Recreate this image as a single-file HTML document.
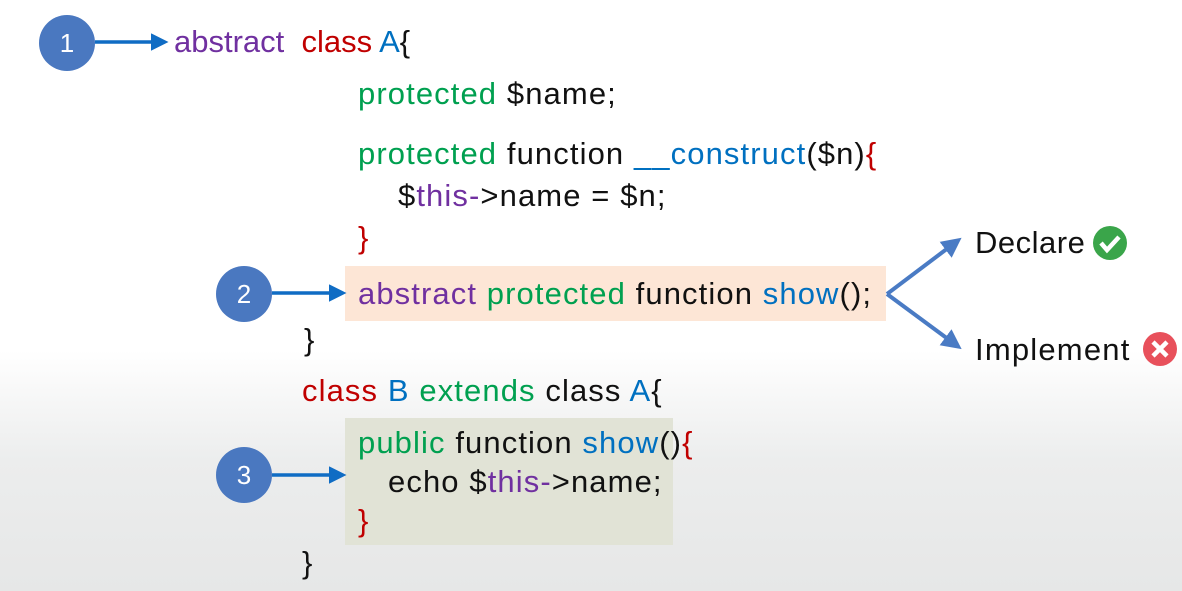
<!DOCTYPE html>
<html><head><meta charset="utf-8"><style>
body{margin:0;width:1182px;height:591px;overflow:hidden;position:relative;font-family:"Liberation Sans",sans-serif;
background:linear-gradient(#fff 0,#fff 350px,#eceded 460px,#e6e7e7 591px);}
.t{position:absolute;font-size:31px;line-height:34px;white-space:pre;color:#111;letter-spacing:1.1px}
.p{color:#7030a0}.r{color:#c00000}.b{color:#0070c0}.g{color:#00a050}
.c{position:absolute;width:56px;height:56px;border-radius:50%;background:#4a78c0;color:#fff;font-size:26px;line-height:56px;text-align:center}
.box{position:absolute}
</style></head><body>
<div class="box" style="left:345px;top:266px;width:541px;height:55px;background:#fde6d6"></div>
<div class="box" style="left:345px;top:418px;width:328px;height:127px;background:#e1e3d6"></div>
<div class="c" style="left:39px;top:15px">1</div>
<div class="c" style="left:216px;top:266px">2</div>
<div class="c" style="left:216px;top:447px">3</div>
<svg width="1182" height="591" style="position:absolute;left:0;top:0">
<defs><marker id="a" markerWidth="5" markerHeight="5" refX="2" refY="2.5" orient="auto"><path d="M0,0L5,2.5L0,5z" fill="#0f6cc4"/></marker>
<marker id="b" markerWidth="5" markerHeight="5" refX="2" refY="2.5" orient="auto"><path d="M0,0L5,2.5L0,5z" fill="#4a7bc4"/></marker></defs>
<g stroke="#0f6cc4" stroke-width="3.5"><line x1="95" y1="42" x2="158" y2="42" marker-end="url(#a)"/>
<line x1="272" y1="293" x2="336" y2="293" marker-end="url(#a)"/>
<line x1="272" y1="475" x2="336" y2="475" marker-end="url(#a)"/></g>
<g stroke="#4a7bc4" stroke-width="4" fill="none"><line x1="887" y1="294" x2="952" y2="245" marker-end="url(#b)"/>
<line x1="887" y1="294" x2="952" y2="342" marker-end="url(#b)"/></g>
<circle cx="1110" cy="243" r="17" fill="#3aa54a"/><path d="M1101,243l6,7l12,-13" stroke="#fff" stroke-width="4.5" fill="none"/>
<circle cx="1160" cy="349" r="17" fill="#e8505b"/><path d="M1153,342l14,14M1167,342l-14,14" stroke="#fff" stroke-width="4.5"/>
</svg>
<div class="t" style="left:174px;top:25px;letter-spacing:0"><span class="p">abstract</span>  <span class="r">class</span> <span class="b">A</span>{</div>
<div class="t" style="left:358px;top:77px"><span class="g">protected</span> $name;</div>
<div class="t" style="left:358px;top:137px"><span class="g">protected</span> function <span class="b">__construct</span>($n)<span class="r">{</span></div>
<div class="t" style="left:398px;top:179px">$<span class="p">this-</span>&gt;name = $n;</div>
<div class="t r" style="left:358px;top:221px">}</div>
<div class="t" style="left:358px;top:277px"><span class="p">abstract</span> <span class="g">protected</span> function <span class="b">show</span>();</div>
<div class="t" style="left:304px;top:323px">}</div>
<div class="t" style="left:302px;top:374px"><span class="r">class</span> <span class="b">B</span> <span class="g">extends</span> class <span class="b">A</span>{</div>
<div class="t" style="left:358px;top:426px"><span class="g">public</span> function <span class="b">show</span>()<span class="r">{</span></div>
<div class="t" style="left:388px;top:465px">echo $<span class="p">this-</span>&gt;name;</div>
<div class="t r" style="left:358px;top:504px">}</div>
<div class="t" style="left:302px;top:546px">}</div>
<div class="t" style="left:975px;top:226px;letter-spacing:0.5px">Declare</div>
<div class="t" style="left:975px;top:333px;letter-spacing:1.2px">Implement</div>
</body></html>
